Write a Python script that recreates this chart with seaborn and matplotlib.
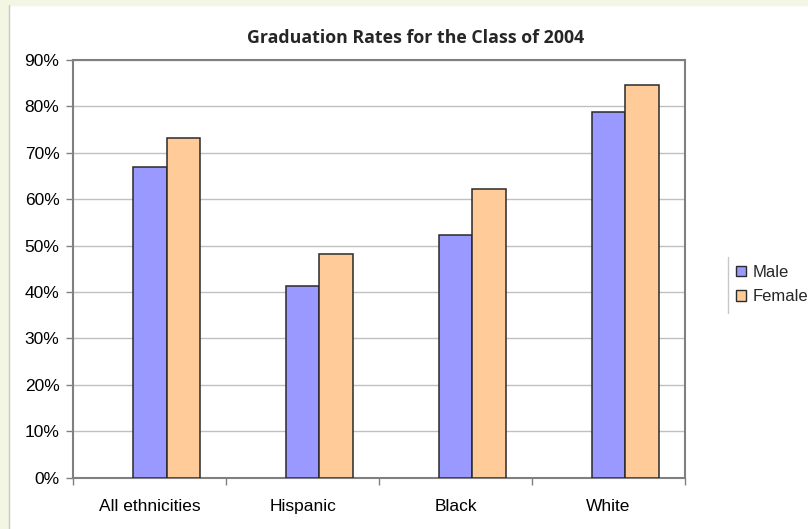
import matplotlib
matplotlib.use("Agg")
import matplotlib.pyplot as plt
import seaborn as sns
import pandas as pd
from matplotlib.patches import Rectangle, Patch
from matplotlib.lines import Line2D

# ---- data ----
categories = ["All ethnicities", "Hispanic", "Black", "White"]
male = [67.0, 41.2, 52.3, 78.7]
female = [73.1, 48.1, 62.3, 84.6]
series = ["Male", "Female"]
ytick_values = [0, 10, 20, 30, 40, 50, 60, 70, 80, 90]
title = "Graduation Rates for the Class of 2004"

colors = {"blank": "#ffffff", "Male": "#9999ff", "Female": "#ffcc99"}

df = pd.DataFrame({
    "category": categories * 2,
    "series": ["Male"] * len(categories) + ["Female"] * len(categories),
    "value": male + female,
})

sns.set_theme(style="white")
plt.rcParams['font.family'] = ['Liberation Sans', 'DejaVu Sans']

W, H = 808, 529
fig = plt.figure(figsize=(W / 100, H / 100), dpi=100)
fig.patch.set_facecolor("white")

# outer light-green margin strips
green = "#f3f6e2"
fig.add_artist(Rectangle((0, 0), 8 / W, 1, transform=fig.transFigure, color=green, zorder=0))
fig.add_artist(Rectangle((0, 1 - 5 / H), 1, 5 / H, transform=fig.transFigure, color=green, zorder=0))
fig.add_artist(Line2D([9 / W, 9 / W], [0, 1 - 5 / H], transform=fig.transFigure, color="#c8c8c8", lw=1))

left, right, top, bottom = 73.3, 685.0, 60.0, 477.7
ax = fig.add_axes([left / W, 1 - bottom / H, (right - left) / W, (bottom - top) / H])

sns.barplot(data=df, x="category", y="value", hue="series",
            order=categories, hue_order=["blank", "Male", "Female"],
            palette=colors, saturation=1, width=0.657, edgecolor="#2a2a2a", linewidth=1.1,
            errorbar=None, legend=False, ax=ax, zorder=3)

ax.set_xlim(-0.5, len(categories) - 0.5)
ax.set_ylim(0, 90)
ax.set_yticks(ytick_values)
ax.set_yticklabels([f"{v}%" for v in ytick_values], fontsize=12.5, color="black")
ax.yaxis.grid(True, color="#c0c0c0", lw=1, zorder=0)
ax.set_axisbelow(True)
ax.set_xlabel("")
ax.set_ylabel("")

# x ticks at category boundaries, labels at centers
ax.set_xticks([i - 0.5 for i in range(len(categories) + 1)])
ax.set_xticklabels([""] * (len(categories) + 1))
ax.set_xticks(range(len(categories)), minor=True)
ax.set_xticklabels(categories, minor=True, fontsize=12.5, color="black")
ax.tick_params(axis="x", which="major", direction="out", length=5, width=1, color="#808080", bottom=True)
ax.tick_params(axis="x", which="minor", length=0, pad=15)
ax.tick_params(axis="y", direction="out", length=5, width=1, color="#808080", left=True, pad=5)

for s in ax.spines.values():
    s.set_color("#808080")
    s.set_linewidth(1.5)

fig.text(416 / W, 1 - 38 / H, title, ha="center", va="center",
         fontsize=12.8, fontweight="bold", family=["Open Sans", "DejaVu Sans"])

handles = [Patch(facecolor=colors[s], edgecolor="#2a2a2a", lw=1) for s in series]
leg = fig.legend(handles, series, loc="upper left",
                 bbox_to_anchor=(727.7 / W, 1 - 256.7 / H),
                 fontsize=12, frameon=False,
                 handlelength=0.6, handleheight=0.6, handletextpad=0.4,
                 borderpad=0.5, labelspacing=0.55, borderaxespad=0)
# legend box: only its left edge is visible in the reference
fig.add_artist(Line2D([727.7 / W, 727.7 / W], [1 - 256.7 / H, 1 - 312.7 / H],
                      transform=fig.transFigure, color="#c8c8c8", lw=1))

fig.savefig("out.png", dpi=100)
